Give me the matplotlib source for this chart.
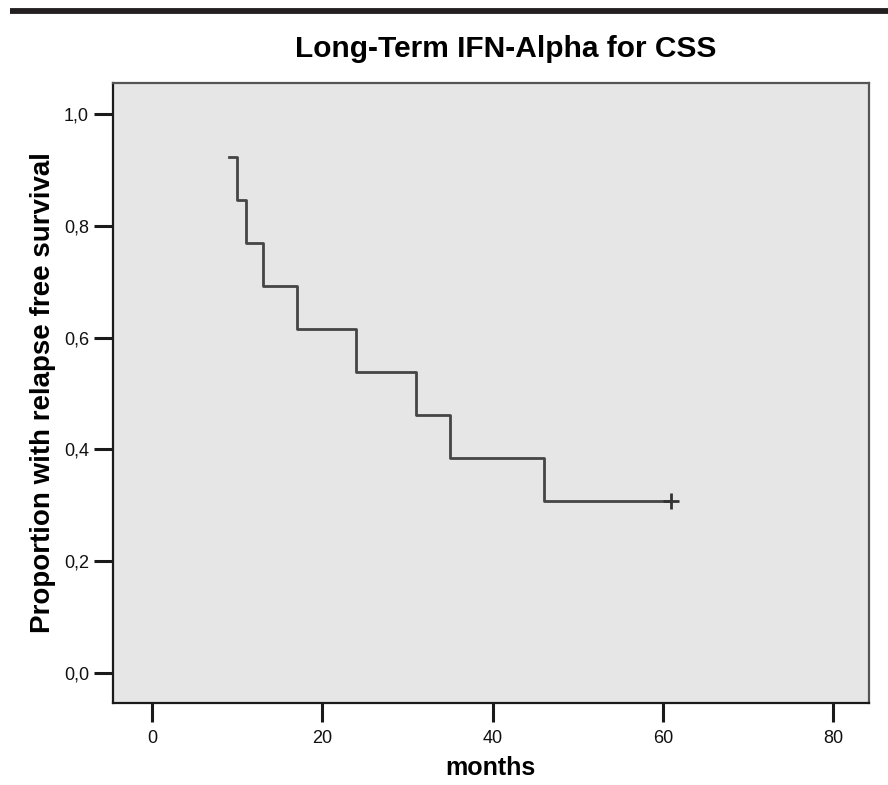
import matplotlib
matplotlib.use("Agg")
import matplotlib.pyplot as plt
from matplotlib.ticker import FuncFormatter

# Kaplan-Meier step data (13 patients)
times = [9, 10, 11, 13, 17, 24, 31, 35, 46, 61]
survival = [12/13, 11/13, 10/13, 9/13, 8/13, 7/13, 6/13, 5/13, 4/13, 4/13]
censor_times = [61]
censor_surv = [4/13]

x_ticks = [0, 20, 40, 60, 80]
y_ticks = [0.0, 0.2, 0.4, 0.6, 0.8, 1.0]

plt.rcParams['font.family'] = ['Liberation Sans', 'DejaVu Sans']

fig = plt.figure(figsize=(8.88, 7.85), dpi=100)
fig.patch.set_facecolor('white')

# thick black rule across the top of the page
fig.add_artist(plt.Line2D([10 / 888, 1.0], [1 - 10.5 / 785] * 2,
                          color='#231f20', linewidth=4.2,
                          solid_capstyle='butt', transform=fig.transFigure))

ax = fig.add_axes([112.7 / 888, 1 - 702.7 / 785, (869 - 112.7) / 888, (702.7 - 83.3) / 785])
ax.set_facecolor('#e6e6e6')

ax.step(times, survival, where='post', color='#454545', linewidth=2.0)
ax.plot(censor_times, censor_surv, marker='+', linestyle='none',
        color='#333333', markersize=12, markeredgewidth=2.0)

ax.set_xlim(-4.6, 84.2)
ax.set_ylim(-0.053, 1.055)
ax.set_xticks(x_ticks)
ax.set_yticks(y_ticks)
ax.yaxis.set_major_formatter(FuncFormatter(lambda v, p: f'{v:.1f}'.replace('.', ',')))

for side in ['left', 'bottom']:
    ax.spines[side].set_color('#1a1a1a')
    ax.spines[side].set_linewidth(1.6)
for side in ['top', 'right']:
    ax.spines[side].set_color('#555555')
    ax.spines[side].set_linewidth(1.6)

ax.tick_params(axis='both', direction='out', length=14, width=2.2, color='#1a1a1a',
               labelsize=13, labelcolor='#111111')
ax.tick_params(axis='y', pad=3)
ax.tick_params(axis='x', pad=6)

ax.set_title('Long-Term IFN-Alpha for CSS', fontsize=21.5, fontweight='bold', pad=19,
             x=0.52)
ax.set_xlabel('months', fontsize=18, fontweight='bold', labelpad=6)
ax.set_ylabel('Proportion with relapse free survival', fontsize=20, fontweight='bold',
              labelpad=6)

fig.savefig('out.png', dpi=100, facecolor='white')
